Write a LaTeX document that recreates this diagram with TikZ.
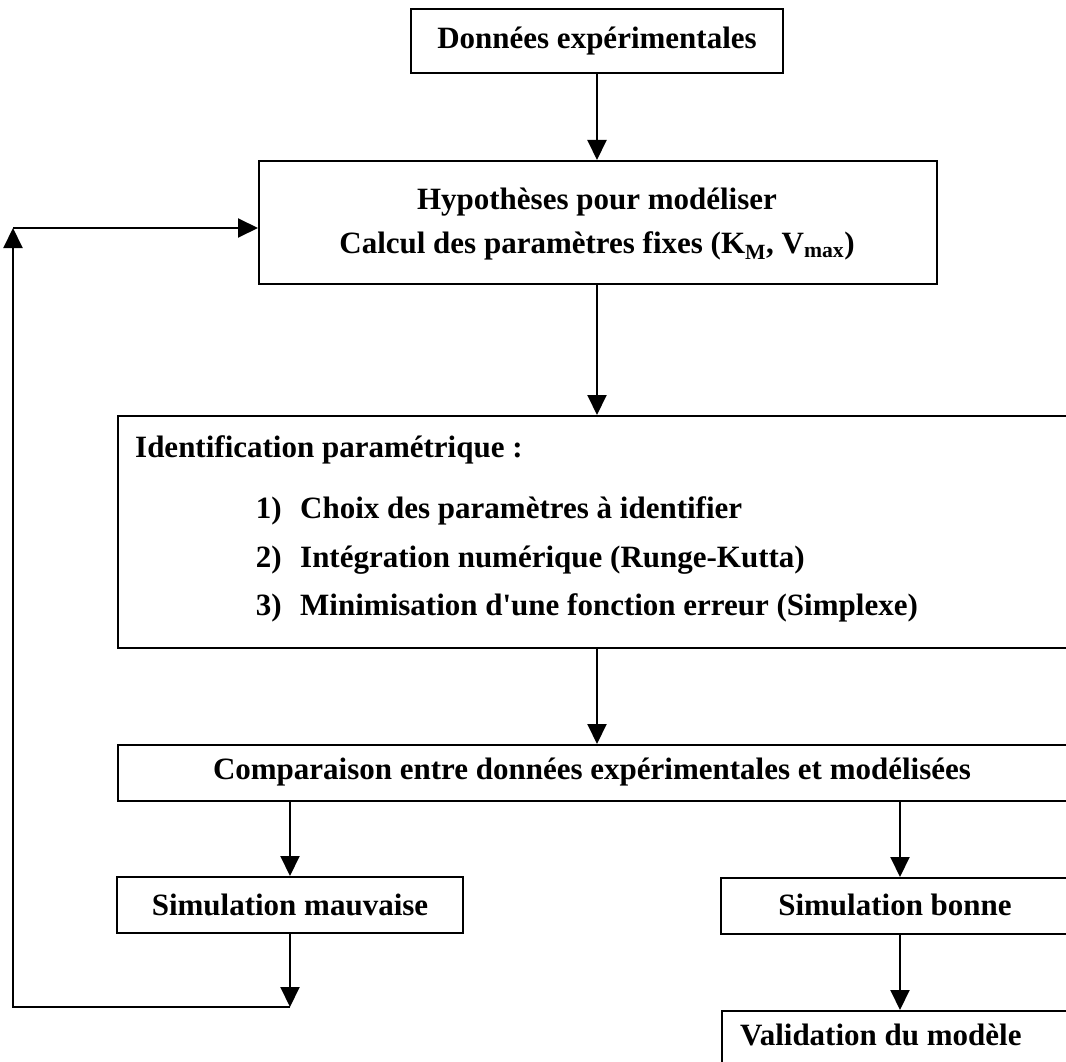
\documentclass[tikz,border=0pt]{standalone}
\usepackage{fontspec}
\setmainfont{Liberation Serif}
\usetikzlibrary{arrows.meta,positioning}
\tikzset{
  box/.style={draw, line width=2pt, inner sep=0pt},
  txt/.style={inner sep=0pt, font=\bfseries\fontsize{31}{44}\selectfont},
  flow/.style={-{Triangle[length=20pt,width=19pt]}, line width=2pt}
}
\begin{document}
\begin{tikzpicture}[x=1pt,y=-1pt]
  \useasboundingbox (0,0) rectangle (1066,1062);
  \clip (0,0) rectangle (1066,1062);

  \coordinate (axis) at (597,0);
  \node [box, txt, minimum width=372pt, minimum height=64pt] (donnees) at (597,41) {Données expérimentales};
  \node [box, anchor=north west, minimum width=678pt, minimum height=123pt] (hyp) at (258,160) {};
  \node [txt, align=center] (hyptxt) at (597,224) {Hypothèses pour modéliser\\Calcul des paramètres fixes (K\textsubscript{M}, V\textsubscript{max})};

  % identification
  \node [box, anchor=north west, minimum width=1000pt, minimum height=232pt] (ident) at (117,415) {};
  \node [txt, anchor=west] (idtitle) at (135,450) {Identification paramétrique :};
  \node [txt, anchor=east] (n1) at (282,511) {1)};
  \node [txt, anchor=west] (s1) at (300,511) {Choix des paramètres à identifier};
  \node [txt, anchor=east] (n2) at (282,560) {2)};
  \node [txt, anchor=west] (s2) at (300,560) {Intégration numérique (Runge-Kutta)};
  \node [txt, anchor=east] (n3) at (282,608) {3)};
  \node [txt, anchor=west] (s3) at (300,608) {Minimisation d\textquotesingle une fonction erreur (Simplexe)};

  \node [box, anchor=north west, minimum width=1000pt, minimum height=56pt] (comp) at (117,744) {};
  \node [txt] (comptxt) at (592,772) {Comparaison entre données expérimentales et modélisées};

  \node [box, txt, minimum width=346pt, minimum height=56pt] (mauv) at (290,905) {Simulation mauvaise};
  \node [box, anchor=north west, minimum width=400pt, minimum height=56pt] (bonne) at (720,877) {};
  \node [txt] (bonnetxt) at (895,905) {Simulation bonne};
  \node [box, anchor=north west, minimum width=400pt, minimum height=80pt] (valid) at (721,1010) {};
  \node [txt, anchor=west] (validtxt) at (740,1035) {Validation du modèle};

  \draw [flow] (donnees.south -| axis) -- (hyp.north -| axis);
  \draw [flow] (hyp.south -| axis) -- (ident.north -| axis);
  \draw [flow] (ident.south -| axis) -- (comp.north -| axis);
  \draw [flow] (comp.south -| mauv.south) -- (mauv.north);
  \coordinate (rbonne) at (900,0);
  \draw [flow] (comp.south -| rbonne) -- (bonne.north -| rbonne);
  \draw [flow] (bonne.south -| rbonne) -- (valid.north -| rbonne);

  % retour
  \coordinate (retA) at (290,1007);
  \coordinate (retB) at (13,1007);
  \coordinate (retC) at (13,228);
  \draw [flow] (mauv.south) -- (retA);
  \draw [flow] (retA) -- (retB) -- (retC);
  \draw [flow] (retC) -- (retC -| hyp.west);
\end{tikzpicture}
\end{document}
